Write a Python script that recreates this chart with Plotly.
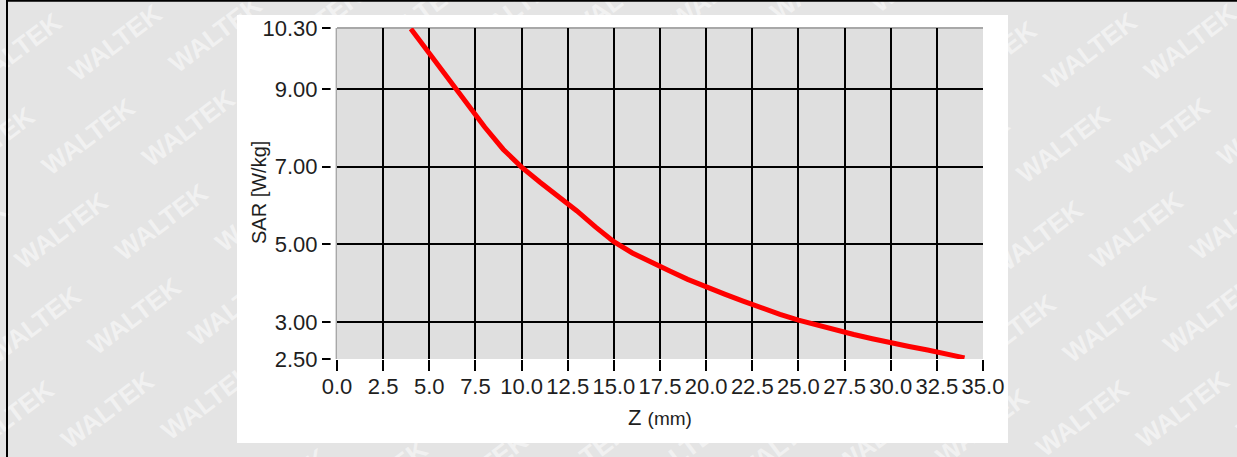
import plotly.graph_objects as go

# ---- data -------------------------------------------------------------
# SAR measured along the probe depth axis (1 mm steps)
z_mm = [4, 5, 6, 7, 8, 9, 10, 11, 12, 13, 14, 15, 16, 17, 18, 19, 20, 21,
        22, 23, 24, 25, 26, 27, 28, 29, 30, 31, 32, 33, 34]
sar_wkg = [10.55, 9.92, 9.28, 8.66, 8.02, 7.45, 6.99, 6.60, 6.24, 5.86, 5.45,
           5.07, 4.78, 4.54, 4.32, 4.10, 3.90, 3.72, 3.54, 3.36, 3.20, 3.05,
           2.92, 2.80, 2.68, 2.57, 2.46, 2.37, 2.28, 2.18, 2.08]

x_range = [0, 35]
x_step = 2.5
y_range = [2.05, 10.57]
y_tick_vals = [y_range[0], 3, 5, 7, 9, y_range[1]]
y_tick_text = ["2.50", "3.00", "5.00", "7.00", "9.00", "10.30"]

x_title = "Z <span style='font-size:19px'>(mm)</span>"
y_title = "SAR [W/kg]"
watermark = "WALTEK"

# ---- page geometry (pixels) ------------------------------------------
W, H = 1237, 457
M_L, M_R, M_T, M_B = 331, 254, 28, 98
PLOT_W = W - M_L - M_R
PLOT_H = H - M_T - M_B
AXIS_GAP = 6  # gap between the y tick marks and the plot frame


def px_x(px):
    return (px - M_L) / PLOT_W


def px_y(py):
    return (H - M_B - py) / PLOT_H


FONT = "Liberation Sans, Arial, sans-serif"
TXT = "#1e1e1e"

shapes = []

# tiled background watermark
ax_, ay_ = 100.2, -8.6
bx_, by_ = -27.0, 94.0
for m in range(-2, 7):
    for n in range(-4, 15):
        cx = 114 + n * ax_ + m * bx_
        cy = 41 + n * ay_ + m * by_
        if -80 < cx < W + 80 and -60 < cy < H + 60:
            shapes.append(dict(
                type="rect", xref="paper", yref="paper",
                x0=px_x(cx - 45), x1=px_x(cx + 45),
                y0=px_y(cy + 12), y1=px_y(cy - 12),
                line=dict(width=0), fillcolor="rgba(0,0,0,0)", layer="below",
                label=dict(text=watermark, textangle=-37,
                           textposition="middle center",
                           font=dict(family=FONT, size=26, weight="bold",
                                     color="rgba(255,255,255,0.5)")),
            ))

# page frame lines
shapes.append(dict(type="line", xref="paper", yref="paper",
                   x0=px_x(6), x1=px_x(W + 2), y0=px_y(0.8), y1=px_y(0.8),
                   line=dict(color="black", width=2), layer="below"))
shapes.append(dict(type="line", xref="paper", yref="paper",
                   x0=px_x(7), x1=px_x(7), y0=px_y(-2), y1=px_y(H + 2),
                   line=dict(color="black", width=2), layer="below"))

# white chart panel
shapes.append(dict(type="rect", xref="paper", yref="paper",
                   x0=px_x(237), x1=px_x(1008), y0=px_y(443), y1=px_y(15),
                   line=dict(width=0), fillcolor="white", layer="below"))

# plot area background and top frame
shapes.append(dict(type="rect", xref="x domain", yref="y domain",
                   x0=0, x1=1, y0=0, y1=1,
                   line=dict(width=0), fillcolor="#dfdfdf", layer="below"))
shapes.append(dict(type="line", xref="x domain", yref="y domain",
                   x0=0, x1=1, y0=1, y1=1,
                   line=dict(color="#a8a8a8", width=2), layer="below"))

# white strip separating the y tick marks from the frame line
shapes.append(dict(type="rect", xref="paper", yref="paper",
                   x0=px_x(330.6), x1=px_x(335.6), y0=px_y(365), y1=px_y(20),
                   line=dict(width=0), fillcolor="white", layer="above"))

fig = go.Figure()
fig.add_trace(go.Scatter(
    x=z_mm, y=sar_wkg, mode="lines",
    line=dict(color="#ff0000", width=5),
    hoverinfo="x+y", showlegend=False,
))

fig.update_layout(
    width=W, height=H,
    margin=dict(l=M_L, r=M_R, t=M_T, b=M_B, pad=0),
    paper_bgcolor="#e4e4e4",
    plot_bgcolor="rgba(0,0,0,0)",
    font=dict(family=FONT, size=22, color=TXT),
    shapes=shapes,
    showlegend=False,
    xaxis=dict(
        domain=[AXIS_GAP / PLOT_W, 1], range=x_range,
        tick0=0, dtick=x_step, tickformat=".1f",
        showgrid=True, gridcolor="black", gridwidth=2,
        ticks="outside", ticklen=11, tickwidth=2, tickcolor="black",
        ticklabelstandoff=-3,
        showline=False, zeroline=False,
        tickfont=dict(family=FONT, size=22, color=TXT),
    ),
    yaxis=dict(
        range=y_range, tickvals=y_tick_vals, ticktext=y_tick_text,
        ticks="outside", ticklen=13, tickwidth=2, tickcolor="black",
        showgrid=True, gridcolor="black", gridwidth=2,
        showline=True, linecolor="#a8a8a8", linewidth=2,
        zeroline=False,
        tickfont=dict(family=FONT, size=22, color=TXT),
    ),
    annotations=[
        dict(text=x_title, xref="paper", yref="paper",
             x=px_x(660), y=px_y(417), xanchor="center", yanchor="middle",
             showarrow=False, font=dict(family=FONT, size=22, color=TXT)),
        dict(text=y_title, xref="paper", yref="paper", textangle=-90,
             x=px_x(259), y=px_y(193), xanchor="center", yanchor="middle",
             showarrow=False, font=dict(family=FONT, size=20, color=TXT)),
    ],
)

fig.write_html("out.html")
